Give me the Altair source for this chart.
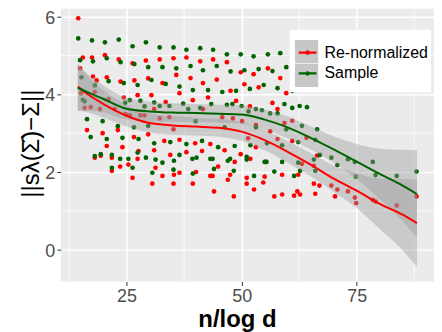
import altair as alt
import pandas as pd

FONT = "Liberation Sans"

series_names = ["Re-normalized", "Sample"]
series_colors = ["#FF0000", "#006400"]

red_x = [14.5, 15.5, 17.5, 20.3, 23.3, 26.3, 29.2, 32.2, 35.2, 17.7, 18.5, 20.7, 23.7, 26.7, 29.7, 32.8,
         35.8, 36.5, 24.4, 27.4, 30.4, 33.5, 31.0, 14.9, 15.1, 15.9, 17.2, 18.1, 21.1, 19.2, 22.4, 24.8,
         25.7, 28.0, 28.9, 32.2, 34.3, 35.2, 29.7, 16.4, 19.8, 23.1, 26.6, 20.7, 24.1, 18.1, 19.4, 21.8,
         27.6, 27.4, 31.0, 33.2, 36.5, 34.5, 21.8, 23.6, 25.4, 31.3, 26.3, 32.8, 35.3, 36.5, 30.6, 35.2,
         38.0, 41.0, 43.8, 46.8, 38.9, 41.6, 44.6, 49.8, 52.6, 55.7, 58.4, 50.6, 53.7, 47.6, 59.7, 39.4,
         42.7, 48.8, 56.7, 57.8, 51.8, 41.6, 45.8, 48.1, 50.1, 53.1, 51.4, 57.8, 56.2, 61.0, 53.1, 39.9,
         43.2, 38.0, 41.4, 46.3, 49.8, 51.9, 55.2, 44.9, 48.5, 40.1, 43.2, 43.7, 47.5, 47.0, 51.1, 55.0,
         58.8, 62.3, 39.4, 51.1, 54.7, 52.7, 44.0, 62.1, 58.8, 57.1, 61.4, 62.7, 48.3, 61.0, 59.3, 64.1,
         66.4, 63.1, 65.7, 69.5, 65.7, 66.9, 70.8, 73.1, 66.0, 70.3, 74.6, 74.9, 78.5, 79.1, 83.7, 88.0]
red_y = [5.96, 4.95, 4.95, 5.01, 4.90, 4.80, 4.87, 4.90, 4.93, 4.46, 4.36, 4.44, 4.33, 4.36, 4.41, 4.29,
         4.50, 4.03, 3.92, 3.98, 3.98, 3.80, 3.62, 4.67, 4.03, 3.65, 3.67, 4.06, 3.88, 3.62, 3.62, 3.49,
         3.46, 3.46, 3.46, 3.38, 3.41, 3.10, 2.97, 3.08, 3.00, 3.08, 2.90, 2.67, 2.64, 2.37, 2.42, 2.37,
         2.54, 2.34, 2.56, 2.80, 2.83, 2.44, 2.03, 2.14, 2.19, 2.11, 1.85, 1.90, 1.93, 1.98, 1.70, 1.70,
         4.95, 4.85, 4.90, 4.83, 4.42, 4.29, 4.38, 4.57, 4.52, 4.67, 4.42, 4.26, 4.18, 4.09, 4.03, 3.85,
         3.92, 3.83, 3.78, 3.62, 3.69, 3.62, 3.41, 3.38, 3.31, 3.21, 2.87, 2.85, 3.05, 2.80, 2.64, 2.74,
         2.72, 2.51, 2.54, 2.56, 2.46, 2.34, 2.26, 2.14, 2.26, 2.00, 1.90, 1.90, 1.93, 1.80, 1.85, 1.88,
         1.93, 1.93, 1.70, 1.70, 1.73, 1.55, 1.50, 1.50, 1.42, 1.37, 1.39, 1.42, 1.37, 3.32, 3.26, 2.88,
         2.42, 2.21, 2.16, 1.65, 1.70, 1.65, 1.55, 1.50, 1.44, 1.37, 1.34, 1.20, 1.28, 1.24, 1.14, 1.37]

green_x = [14.5, 17.5, 20.3, 23.3, 26.3, 29.2, 32.2, 35.2, 14.9, 17.7, 20.7, 23.7, 26.7, 29.7, 32.8, 35.8,
           21.1, 24.4, 27.4, 30.4, 33.5, 36.5, 25.7, 28.0, 31.0, 32.2, 34.3, 37.3, 28.9, 15.2, 18.1, 15.5,
           15.9, 24.7, 16.4, 19.8, 23.1, 26.6, 17.2, 20.7, 24.1, 27.6, 31.0, 34.5, 18.1, 19.4, 21.8, 23.6,
           25.4, 29.2, 31.3, 36.5, 32.8, 35.3, 21.8, 26.3, 30.6, 35.2, 29.7, 27.4, 38.0, 41.0, 43.8, 46.8,
           49.8, 52.6, 55.7, 58.4, 38.9, 44.6, 41.6, 47.6, 50.6, 53.7, 56.7, 59.7, 39.4, 42.7, 45.8, 48.8,
           51.8, 54.8, 57.8, 61.0, 62.6, 59.3, 41.0, 43.4, 46.8, 48.0, 50.0, 53.1, 61.0, 64.2, 38.4, 51.5,
           54.4, 56.2, 57.8, 40.0, 46.3, 53.1, 59.7, 62.3, 55.5, 51.9, 38.0, 41.4, 44.9, 48.5, 58.8, 39.3,
           40.2, 43.2, 43.7, 47.0, 47.5, 51.1, 51.1, 55.0, 55.4, 58.8, 44.0, 48.3, 39.4, 52.7, 57.1, 61.4,
           62.7, 62.3, 63.1, 66.4, 66.0, 69.5, 67.0, 73.1, 74.6, 78.5, 65.7, 70.8, 66.0, 74.8, 79.1, 83.7,
           88.0]
green_y = [5.44, 5.39, 5.34, 5.41, 5.24, 5.34, 5.21, 5.21, 4.88, 4.85, 4.93, 4.83, 4.78, 4.70, 4.70, 4.67,
           4.34, 4.29, 4.24, 4.37, 4.27, 4.20, 3.85, 3.83, 3.79, 3.70, 3.70, 3.76, 3.69, 4.44, 4.23, 3.86,
           3.82, 3.78, 3.36, 3.31, 3.18, 3.15, 2.90, 2.85, 2.88, 2.85, 2.74, 2.77, 2.41, 2.46, 2.44, 2.34,
           2.34, 2.37, 2.32, 2.44, 2.24, 2.29, 2.11, 2.11, 1.98, 2.06, 3.19, 2.50, 5.15, 5.19, 5.15, 5.03,
           5.03, 4.98, 5.03, 5.06, 4.73, 4.73, 4.62, 4.59, 4.62, 4.65, 4.60, 4.70, 4.11, 4.11, 4.06, 4.09,
           4.14, 4.24, 4.16, 4.09, 3.70, 3.75, 3.65, 3.75, 3.73, 3.75, 3.70, 3.62, 3.65, 3.67, 3.62, 3.56,
           3.59, 3.51, 3.51, 3.31, 3.15, 3.15, 3.10, 2.77, 2.74, 2.69, 2.72, 2.80, 2.64, 2.67, 2.69, 2.34,
           2.37, 2.34, 2.34, 2.29, 2.34, 2.39, 2.32, 2.26, 2.26, 2.26, 2.08, 2.03, 1.96, 1.90, 2.01, 1.90,
           2.03, 2.24, 3.19, 3.10, 2.83, 2.37, 2.44, 2.33, 2.26, 2.26, 2.32, 2.18, 2.03, 1.88, 1.92, 1.90,
           2.01]

# smoothed fits and confidence bands
fit_x = [14.4, 17, 20, 25, 30, 35, 40, 45, 50, 55, 60, 65, 70, 75, 80, 85, 88.1]
red_fit = [4.20, 3.97, 3.75, 3.45, 3.26, 3.20, 3.17, 3.14, 3.04, 2.82, 2.52, 2.19, 1.83, 1.52, 1.18, 0.90, 0.68]
red_lo = [3.60, 3.52, 3.40, 3.17, 3.01, 2.96, 2.94, 2.91, 2.80, 2.56, 2.24, 1.89, 1.49, 1.07, 0.53, -0.02, -0.45]
red_hi = [4.80, 4.42, 4.10, 3.73, 3.51, 3.44, 3.40, 3.37, 3.28, 3.08, 2.80, 2.49, 2.17, 1.97, 1.83, 1.82, 1.81]
green_fit = [4.17, 4.03, 3.88, 3.63, 3.56, 3.53, 3.52, 3.50, 3.48, 3.35, 3.15, 2.88, 2.58, 2.27, 1.95, 1.65, 1.43]
green_lo = [3.57, 3.58, 3.53, 3.35, 3.31, 3.29, 3.29, 3.27, 3.24, 3.09, 2.87, 2.58, 2.24, 1.82, 1.30, 0.73, 0.30]
green_hi = [4.77, 4.48, 4.23, 3.91, 3.81, 3.77, 3.75, 3.73, 3.72, 3.61, 3.43, 3.18, 2.92, 2.72, 2.60, 2.57, 2.56]

x_major = [25, 50, 75]
x_minor = [12.5, 37.5, 62.5, 87.5]
y_major = [0, 2, 4, 6]
y_minor = [1, 3, 5]

pts = pd.DataFrame({
    "x": red_x + green_x,
    "y": red_y + green_y,
    "series": [series_names[0]] * len(red_x) + [series_names[1]] * len(green_x),
})
fits = pd.DataFrame({
    "x": fit_x + fit_x,
    "fit": red_fit + green_fit,
    "lo": red_lo + green_lo,
    "hi": red_hi + green_hi,
    "series": [series_names[0]] * len(fit_x) + [series_names[1]] * len(fit_x),
    "band": [series_names[0]] * len(fit_x) + [series_names[1]] * len(fit_x),
})

xs = alt.Scale(domain=[10.7, 91.8], nice=False, zero=False)
ys = alt.Scale(domain=[-0.82, 6.205], nice=False, zero=False)

x_axis = alt.Axis(values=x_major, title="n/log d", grid=True, gridColor="white", gridWidth=1.5,
                  domain=False, tickColor="#333333", tickSize=4, tickWidth=1,
                  labelFont=FONT, labelFontSize=18, labelColor="#4D4D4D", labelPadding=2,
                  titleFont=FONT, titleFontSize=24, titleFontWeight="bold", titleColor="black",
                  titleX=177, titleY=45, titleBaseline="alphabetic", titleAlign="center")
y_axis = alt.Axis(values=y_major, title="||s\u03bb(\u03a3\u0302)\u2212\u03a3||", grid=True, gridColor="white",
                  gridWidth=1.5, domain=False, tickColor="#333333", tickSize=4, tickWidth=1,
                  labelFont=FONT, labelFontSize=18, labelColor="#4D4D4D", labelPadding=2, labelOffset=1.5,
                  titleFont=FONT, titleFontSize=24, titleFontWeight="normal", titleColor="black",
                  titleX=-22, titleY=135, titleBaseline="alphabetic", titleAlign="center")

LEG_X, LEG_Y = 230, 21
common_leg = dict(orient="none", legendX=LEG_X, legendY=LEG_Y, title=" ", titleFontSize=5, titlePadding=0,
                  symbolSize=543, rowPadding=0, padding=5, labelFont=FONT, labelFontSize=16,
                  labelColor="black")
# gray key boxes (drawn first, carries the white legend box)
fill_legend = alt.Legend(symbolType="square", symbolOpacity=0.55, symbolStrokeWidth=0,
                         labelExpr="''", labelOffset=108, fillColor="white", **common_leg)
# line + dot keys with the labels (drawn on top)
line_path = "M-0.76,0H0.76M0.1,0A0.1,0.1,0,1,1,-0.1,0A0.1,0.1,0,1,1,0.1,0"
line_legend = alt.Legend(symbolType=line_path, symbolStrokeWidth=2.2, labelOffset=4, **common_leg)

vminor = alt.Chart(pd.DataFrame({"x": x_minor})).mark_rule(color="white", strokeWidth=0.75).encode(
    x=alt.X("x:Q", scale=xs, axis=x_axis))
hminor = alt.Chart(pd.DataFrame({"y": y_minor})).mark_rule(color="white", strokeWidth=0.75).encode(
    y=alt.Y("y:Q", scale=ys, axis=y_axis))

points = alt.Chart(pts).mark_circle(size=22, opacity=1).encode(
    x=alt.X("x:Q", scale=xs, axis=x_axis),
    y=alt.Y("y:Q", scale=ys, axis=y_axis),
    color=alt.Color("series:N", scale=alt.Scale(domain=series_names, range=series_colors), legend=None),
)

band = alt.Chart(fits).mark_area(opacity=0.4, interpolate="monotone").encode(
    x=alt.X("x:Q", scale=xs, axis=x_axis),
    y=alt.Y("lo:Q", scale=ys, axis=y_axis),
    y2="hi:Q",
    fill=alt.Fill("band:N", scale=alt.Scale(range=["#999999", "#999999"]), legend=fill_legend),
)

lines = alt.Chart(fits).mark_line(strokeWidth=2, interpolate="monotone").encode(
    x=alt.X("x:Q", scale=xs, axis=x_axis),
    y=alt.Y("fit:Q", scale=ys, axis=y_axis),
    stroke=alt.Stroke("series:N", scale=alt.Scale(range=series_colors), legend=line_legend),
)

chart = alt.layer(vminor, hminor, points, band, lines).properties(
    width=375, height=274,
    padding={"left": 53, "top": 0, "right": 0, "bottom": 50},
    autosize=alt.AutoSizeParams(type="none"),
).configure(background="white", font=FONT).configure_view(fill="#EBEBEB", stroke=None)

chart.save("out.html", embed_options={"renderer": "svg", "actions": False})
